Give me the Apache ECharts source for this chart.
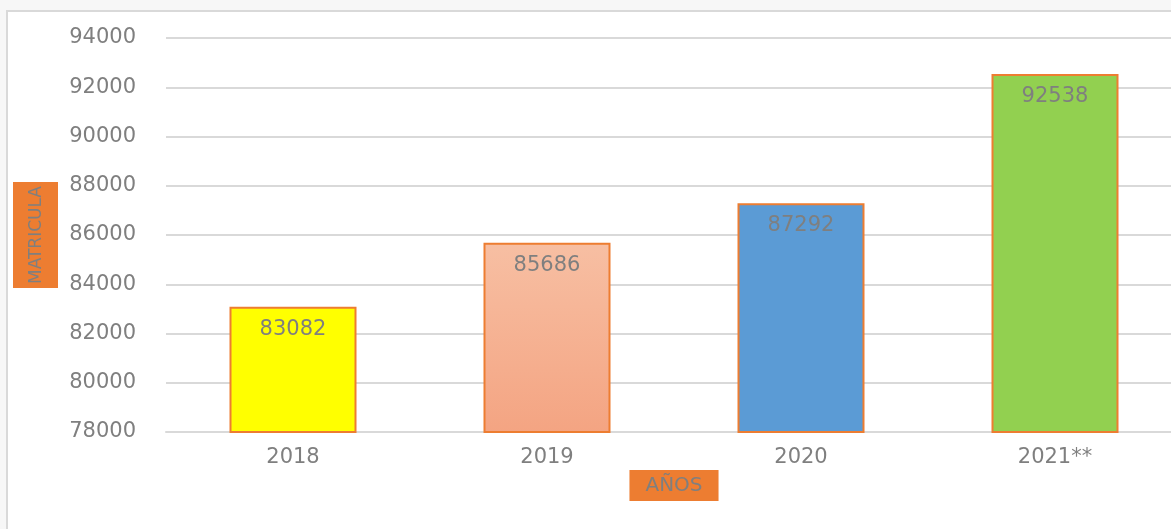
<!DOCTYPE html>
<html>
<head>
<meta charset="utf-8">
<script src="https://cdn.jsdelivr.net/npm/echarts@6/dist/echarts.min.js"></script>
<style>
  html, body { margin: 0; padding: 0; background: #f7f7f7; overflow: hidden; }
  #chart { width: 1182px; height: 529px; }
</style>
</head>
<body>
<div id="chart"></div>
<script>
const years = ['2018', '2019', '2020', '2021**']
const matricula = [83082, 85686, 87292, 92538]
const barColors = [
  '#ffff00',
  { type: 'linear', x: 0, y: 0, x2: 0, y2: 1, colorStops: [{ offset: 0, color: '#f7bfa3' }, { offset: 1, color: '#f4a482' }] },
  '#5b9bd5',
  '#92d050',
]

const chart = echarts.init(document.getElementById('chart'))
const gray = '#7f7f7f'
const font = 'DejaVu Sans'

const option = {
  animation: false,
  graphic: [
    {
      type: 'rect',
      shape: { x: 7, y: 11, width: 1200, height: 560 },
      style: { fill: '#ffffff', stroke: '#d9d9d9', lineWidth: 2 },
      z: -10,
    },
  ],
  grid: { left: 166, top: 38, right: 0, height: 394 },
  xAxis: {
    type: 'category',
    data: years,
    name: 'AÑOS',
    nameLocation: 'middle',
    nameGap: 38,
    nameMoveOverlap: false,
    nameTextStyle: {
      color: gray, fontSize: 20, fontFamily: font,
      backgroundColor: '#ed7d31', padding: [6, 16, 5, 16],
    },
    axisLine: { lineStyle: { color: '#d9d9d9', width: 2 } },
    axisTick: { show: false },
    axisLabel: { color: gray, fontSize: 21, fontFamily: font, margin: 15 },
  },
  yAxis: {
    type: 'value',
    min: 78000,
    max: 94000,
    interval: 2000,
    name: 'MATRICULA',
    nameLocation: 'middle',
    nameRotate: 90,
    nameGap: 108,
    nameTextStyle: {
      color: gray, fontSize: 17, fontFamily: font,
      backgroundColor: '#ed7d31', padding: [15, 4, 13, 4],
    },
    axisLine: { show: false },
    axisTick: { show: false },
    splitLine: { lineStyle: { color: '#d9d9d9', width: 2 } },
    axisLabel: {
      color: gray, fontSize: 21, fontFamily: font, margin: 30,
      formatter: (v) => String(v),
    },
  },
  series: [
    {
      type: 'bar',
      data: matricula.map((v, i) => ({ value: v, itemStyle: { color: barColors[i] } })),
      barWidth: 127,
      itemStyle: { borderColor: '#ed7d31', borderWidth: 2 },
      label: {
        show: true,
        position: 'insideTop',
        distance: 12,
        color: gray,
        fontSize: 21,
        fontFamily: font,
      },
    },
  ],
}

chart.setOption(option)
</script>
</body>
</html>
